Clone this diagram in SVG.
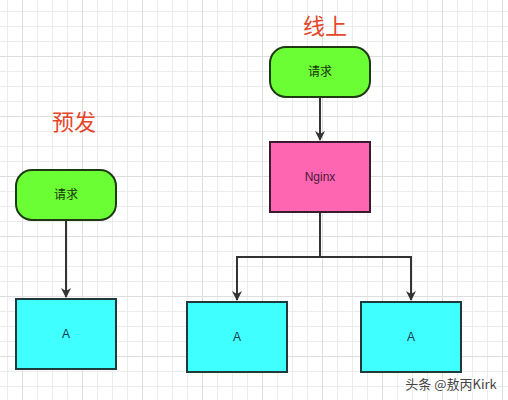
<svg xmlns="http://www.w3.org/2000/svg" width="508" height="400" viewBox="0 0 508 400">
<defs>
<pattern id="minor" width="15" height="15" patternUnits="userSpaceOnUse" patternTransform="translate(7,11)">
<path d="M0.5 0V15M0 0.5H15" fill="none" stroke="#ececec" stroke-width="1"/>
</pattern>
<pattern id="major" width="60" height="60" patternUnits="userSpaceOnUse" patternTransform="translate(22,56)">
<path d="M0.5 0V60M0 0.5H60" fill="none" stroke="#dedede" stroke-width="1"/>
</pattern>
<marker id="arr" markerWidth="10" markerHeight="12" refX="9" refY="5" orient="auto" markerUnits="userSpaceOnUse">
<path d="M0 0L10 5L0 10L3 5Z" fill="#333"/>
</marker>
</defs>
<style>
.t{font-family:"Liberation Sans","Noto Sans CJK SC",sans-serif;font-size:12px;text-anchor:middle;dominant-baseline:central}
.title{font-family:"Noto Sans CJK SC",sans-serif;font-size:22px;fill:#e5462a;text-anchor:middle;dominant-baseline:central}
.req{fill:#6cfe34;stroke:#1e3a12;stroke-width:2}
.ng{fill:#ff66b2;stroke:#3a1a2c;stroke-width:2}
.a{fill:#40ffff;stroke:#1f3a3a;stroke-width:2}
.c{fill:none;stroke:#333;stroke-width:2}
</style>
<rect width="508" height="400" fill="#fff"/>
<rect width="508" height="400" fill="url(#minor)"/>
<rect width="508" height="400" fill="url(#major)"/>
<text class="title" x="325" y="24">线上</text>
<text class="title" x="74" y="120">预发</text>
<g id="connectors">
<path class="c" d="M66 220V297" marker-end="url(#arr)"/>
<path class="c" d="M320 97V140" marker-end="url(#arr)"/>
<path class="c" d="M320 212V257H237V300" marker-end="url(#arr)"/>
<path class="c" d="M320 257H411V300" marker-end="url(#arr)"/>
</g>
<g id="req-right">
<rect class="req" x="270" y="47" width="100" height="50" rx="16" ry="16"/>
<text class="t" x="320" y="72" fill="#1a3310">请求</text>
</g>
<g id="nginx">
<rect class="ng" x="270" y="142" width="100" height="70"/>
<text class="t" x="320" y="177" fill="#4a1a3a">Nginx</text>
</g>
<g id="req-left">
<rect class="req" x="16" y="170" width="100" height="50" rx="16" ry="16"/>
<text class="t" x="66" y="195" fill="#1a3310">请求</text>
</g>
<g id="a-left">
<rect class="a" x="16" y="299" width="100" height="70"/>
<text class="t" x="66" y="334" fill="#1a3a4a">A</text>
</g>
<g id="a-mid">
<rect class="a" x="187" y="302" width="100" height="70"/>
<text class="t" x="237" y="337" fill="#1a3a4a">A</text>
</g>
<g id="a-right">
<rect class="a" x="361" y="302" width="100" height="70"/>
<text class="t" x="411" y="337" fill="#1a3a4a">A</text>
</g>
<text x="451" y="383" font-family="Noto Sans CJK SC,sans-serif" font-size="13" fill="#444" text-anchor="middle" dominant-baseline="central" stroke="#fff" stroke-width="2" paint-order="stroke">头条 @敖丙Kirk</text>
</svg>
